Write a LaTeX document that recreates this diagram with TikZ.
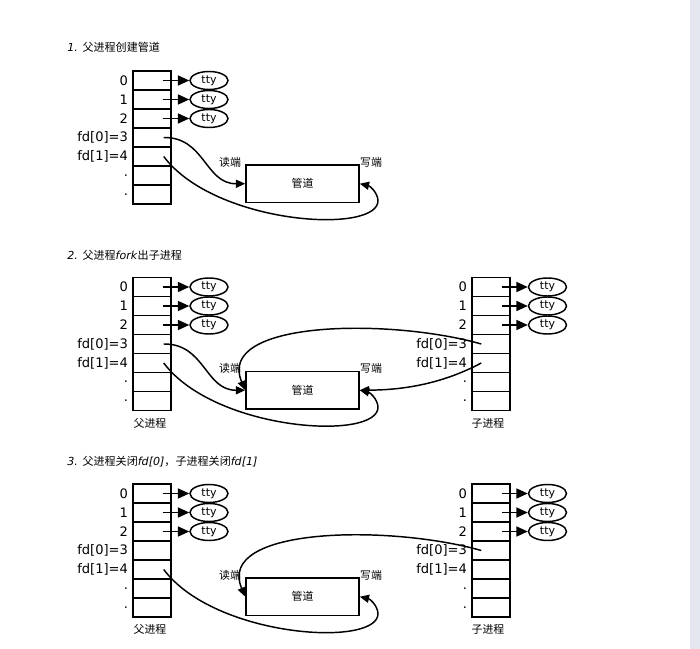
\documentclass[tikz,border=0pt]{standalone}
\usepackage{fontspec}
\setmainfont{DejaVu Sans}
\newfontfamily\cjk{Noto Sans CJK SC}
\usetikzlibrary{arrows.meta,shapes.geometric}

\begin{document}
\begin{tikzpicture}[x=0.75pt,y=0.75pt,yscale=-1,xscale=1,
    cell/.style={draw,line width=1.1pt,minimum width=28.5pt,minimum height=14.25pt,inner sep=0pt},
    tty/.style={draw,ellipse,line width=1.1pt,minimum width=28.5pt,minimum height=13.5pt,inner sep=0pt,font=\fontsize{8.2}{9}\selectfont},
    lbl/.style={anchor=east,inner sep=0pt,font=\fontsize{9.8}{11}\selectfont},
    cjklbl/.style={inner sep=0pt,font=\cjk\fontsize{8.2}{9}\selectfont},
    pipebox/.style={draw,line width=1.1pt,minimum width=84.75pt,minimum height=28.1pt,inner sep=0pt,font=\cjk\fontsize{8.2}{9}\selectfont},
    ttyarrow/.style={line width=1.1pt,-{Triangle[length=8.5pt,width=7.5pt]}},
    conn/.style={line width=1.1pt,-{Triangle[length=7pt,width=6pt]}},
    title/.style={anchor=west,inner sep=0pt,font=\fontsize{8.3}{10}\selectfont}]
    \useasboundingbox (0,0) rectangle (700,649);
    \fill[white] (0,0) rectangle (690,649);
    \fill[color={rgb, 255:red, 227; green, 230; blue, 238}] (690,0) rectangle (700,649);

    % titles
    \node[title] (title1) at (67,47) {\itshape 1. \upshape{\cjk 父进程创建管道}};
    \node[title] (title2) at (67,255) {\itshape 2. \upshape{\cjk 父进程}\textit{fork}{\cjk 出子进程}};
    \node[title] (title3) at (67,462) {\itshape 3. \upshape{\cjk 父进程关闭}\textit{fd[0]}{\cjk ，子进程关闭}\textit{fd[1]}};

    % parent tables, ttys and pipes
    \foreach \sec/\s in {1/0,2/206.5,3/413} {
        \foreach \i/\t in {0/0,1/1,2/2,3/{fd[0]=3},4/{fd[1]=4},5/.,6/.} {
            \node[cell] (p\sec-\i) at (152,{80.5+19*\i+\s}) {};
            \node[lbl] (lp\sec-\i) at ([xshift=-3pt]p\sec-\i.west) {\t};
        }
        \foreach \i in {0,1,2} {
            \node[tty] (t\sec-\i) at (209,{80.5+19*\i+\s}) {tty};
            \draw[ttyarrow] ([xshift=-6.75pt]p\sec-\i.east) -- (t\sec-\i);
        }
        \node[pipebox] (pipe\sec) at (302.5,{183.7+\s}) {管道};
        \node[cjklbl] (rd\sec) at (230,{162+\s}) {读端};
        \node[cjklbl] (wr\sec) at (371,{162+\s}) {写端};
    }

    % child tables
    \foreach \sec/\s in {2/206.5,3/413} {
        \foreach \i/\t in {0/0,1/1,2/2,3/{fd[0]=3},4/{fd[1]=4},5/.,6/.} {
            \node[cell] (c\sec-\i) at (491,{80.5+19*\i+\s}) {};
            \node[lbl] (lc\sec-\i) at ([xshift=-3pt]c\sec-\i.west) {\t};
        }
        \foreach \i in {0,1,2} {
            \node[tty] (u\sec-\i) at (547.5,{80.5+19*\i+\s}) {tty};
            \draw[ttyarrow] ([xshift=-6.75pt]c\sec-\i.east) -- (u\sec-\i);
        }
        \node[cjklbl] (pname\sec) at (150,{216.5+\s}) {父进程};
        \node[cjklbl] (cname\sec) at (488,{216.5+\s}) {子进程};
    }

    % section 1
    \draw[conn] ([xshift=-6pt]p1-3.east) .. controls (205,137) and (205,184) .. (pipe1.west);
    \draw[conn] ([xshift=-6pt]p1-4.east) .. controls (215,225) and (380,235) .. (378,200) .. controls (377,192) and (370,186) .. (pipe1.east);

    % section 2
    \draw[conn] ([xshift=-6pt]p2-3.east) .. controls (205,343.5) and (205,390.5) .. (pipe2.west);
    \draw[conn] ([xshift=-6pt]p2-4.east) .. controls (215,431.5) and (380,441.5) .. (378,406.5) .. controls (377,398.5) and (370,392.5) .. (pipe2.east);
    \draw[conn] ([xshift=7.5pt]c2-3.west) .. controls (390,318) and (215,320) .. (pipe2.west);
    \draw[conn] ([xshift=7.5pt]c2-4.west) .. controls (440,385) and (400,390) .. (pipe2.east);

    % section 3
    \draw[conn] ([xshift=-6pt]p3-4.east) .. controls (215,638) and (380,648) .. (378,613) .. controls (377,605) and (370,599) .. (pipe3.east);
    \draw[conn] ([xshift=7.5pt]c3-3.west) .. controls (390,524.5) and (215,526.5) .. (pipe3.west);
\end{tikzpicture}
\end{document}
